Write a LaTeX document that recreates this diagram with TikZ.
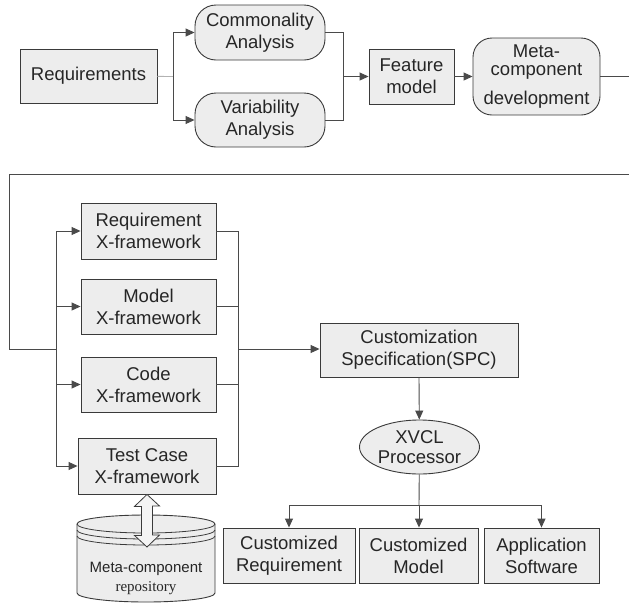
\documentclass[tikz,border=0pt]{standalone}
\usepackage{fontspec}
\setmainfont{Liberation Sans}
\newfontfamily\serifrepo{Liberation Serif}
\usetikzlibrary{arrows.meta}
\usetikzlibrary{shapes.geometric}
\definecolor{boxgray}{HTML}{EDEDED}
\definecolor{edgegray}{HTML}{3A3A3A}
\definecolor{wiregray}{HTML}{4A4A4A}
\tikzstyle{every node}=[font=\fontsize{18.5}{22}\selectfont,text=black!85]
\tikzstyle{block}=[draw=edgegray,fill=boxgray,line width=0.9pt,inner sep=0pt,align=center]
\tikzstyle{rblock}=[block,rounded corners=21pt]
\tikzstyle{wire}=[draw=wiregray,line width=0.9pt]
\tikzstyle{flow}=[wire,-{Triangle[length=9pt,width=8pt]}]

\begin{document}
\begin{tikzpicture}[x=1pt,y=1pt]
\useasboundingbox (0,0) rectangle (629,-603);
\clip (0,0) rectangle (629,-603);
%верхний ряд
\node[block,minimum width=137,minimum height=54] (req) at (88.5,-76) {Requirements};
\node[rblock,minimum width=130,minimum height=55] (comm) at (260,-32.5) {Commonality\\Analysis};
\node[rblock,minimum width=130,minimum height=54] (var) at (260,-120) {Variability\\Analysis};
\node[block,minimum width=85,minimum height=55] (feat) at (411.5,-76.5) {Feature\\model};
\node[rblock,rounded corners=19pt,minimum width=127,minimum height=77] (meta) at (536.5,-76.5)
  {Meta-\\[-4pt]component\\[7pt]development};
\coordinate (split) at (173,-76.5);
\coordinate (merge) at (343,-76.5);
\draw[wire,draw=gray!60] (req) -- (split);
\draw[flow] (split) |- (comm);
\draw[flow] (split) |- (var);
\draw[wire] (comm) -| (merge);
\draw[wire] (var) -| (merge);
\draw[flow] (merge) -- (feat);
\draw[flow] (feat) -- (meta);

%X-framework
\node[block,minimum width=135,minimum height=56] (rx) at (148.5,-231) {Requirement\\X-framework};
\node[block,minimum width=135,minimum height=55] (mx) at (148.5,-306.5) {Model\\X-framework};
\node[block,minimum width=135,minimum height=55] (cx) at (148.5,-384.5) {Code\\X-framework};
\node[block,minimum width=138,minimum height=56] (tx) at (147,-466) {Test Case\\X-framework};
\coordinate (lbus) at (56,-349);
\coordinate (rbus) at (238,-349);
\draw[wire] (meta.east) -- ++(40,0) |- (9,-174) |- (lbus);
\draw[wire] (lbus |- rx) -- (lbus |- tx);
\foreach \fw in {rx,mx,cx,tx}
  \draw[flow] (lbus |- \fw) -- (\fw);
\draw[wire] (rx) -| (rbus |- tx) -- (tx);
\draw[wire] (mx) -- (rbus |- mx);
\draw[wire] (cx) -- (rbus |- cx);

%репозиторий
\filldraw[draw=edgegray,fill=boxgray,line width=0.9pt]
  (77,-524) -- (77,-593) arc[start angle=180,end angle=360,x radius=69pt,y radius=9pt]
  -- (215,-524) arc[start angle=0,end angle=180,x radius=69pt,y radius=9pt] -- cycle;
\foreach \dy in {0,6,12}
  \draw[edgegray,line width=0.8pt] (77,-524-\dy) arc[start angle=180,end angle=360,x radius=69pt,y radius=9pt];
\node[font=\fontsize{15}{17}\selectfont] (repo) at (146,-569) {Meta-component};
\node[font=\fontsize{15}{17}\selectfont\serifrepo] (repo2) at (146,-588) {repository};
\filldraw[draw=edgegray,fill=boxgray!60!white,line width=0.8pt]
  (tx.south) -- ++(-12.5,-12) -- ++(7,0) -- ++(0,-29) -- ++(-7,0) -- (147,-547)
  -- ++(12.5,12) -- ++(-7,0) -- ++(0,29) -- ++(7,0) -- cycle;

%генерация
\node[block,minimum width=198,minimum height=54] (spc) at (419,-350) {Customization\\Specification(SPC)};
\node[block,ellipse,minimum width=120,minimum height=54] (xvcl) at (419.5,-447) {XVCL\\[-2pt]Processor};
\node[block,minimum width=132,minimum height=55] (creq) at (289,-555.5) {Customized\\Requirement};
\node[block,minimum width=119,minimum height=55] (cmod) at (418.5,-555.5) {Customized\\Model};
\node[block,minimum width=115,minimum height=55] (app) at (541.5,-555.5) {Application\\Software};
\coordinate (fork) at (419,-505);
\draw[flow] (rbus) -- (rbus -| spc.west);
\draw[flow] (spc.south -| 419,0) -- (xvcl);
\draw[wire] (xvcl) -- (fork);
\draw[flow] (fork) -| (creq);
\draw[flow] (fork) -- (fork |- cmod.north);
\draw[flow] (fork) -| (app);
\end{tikzpicture}
\end{document}
